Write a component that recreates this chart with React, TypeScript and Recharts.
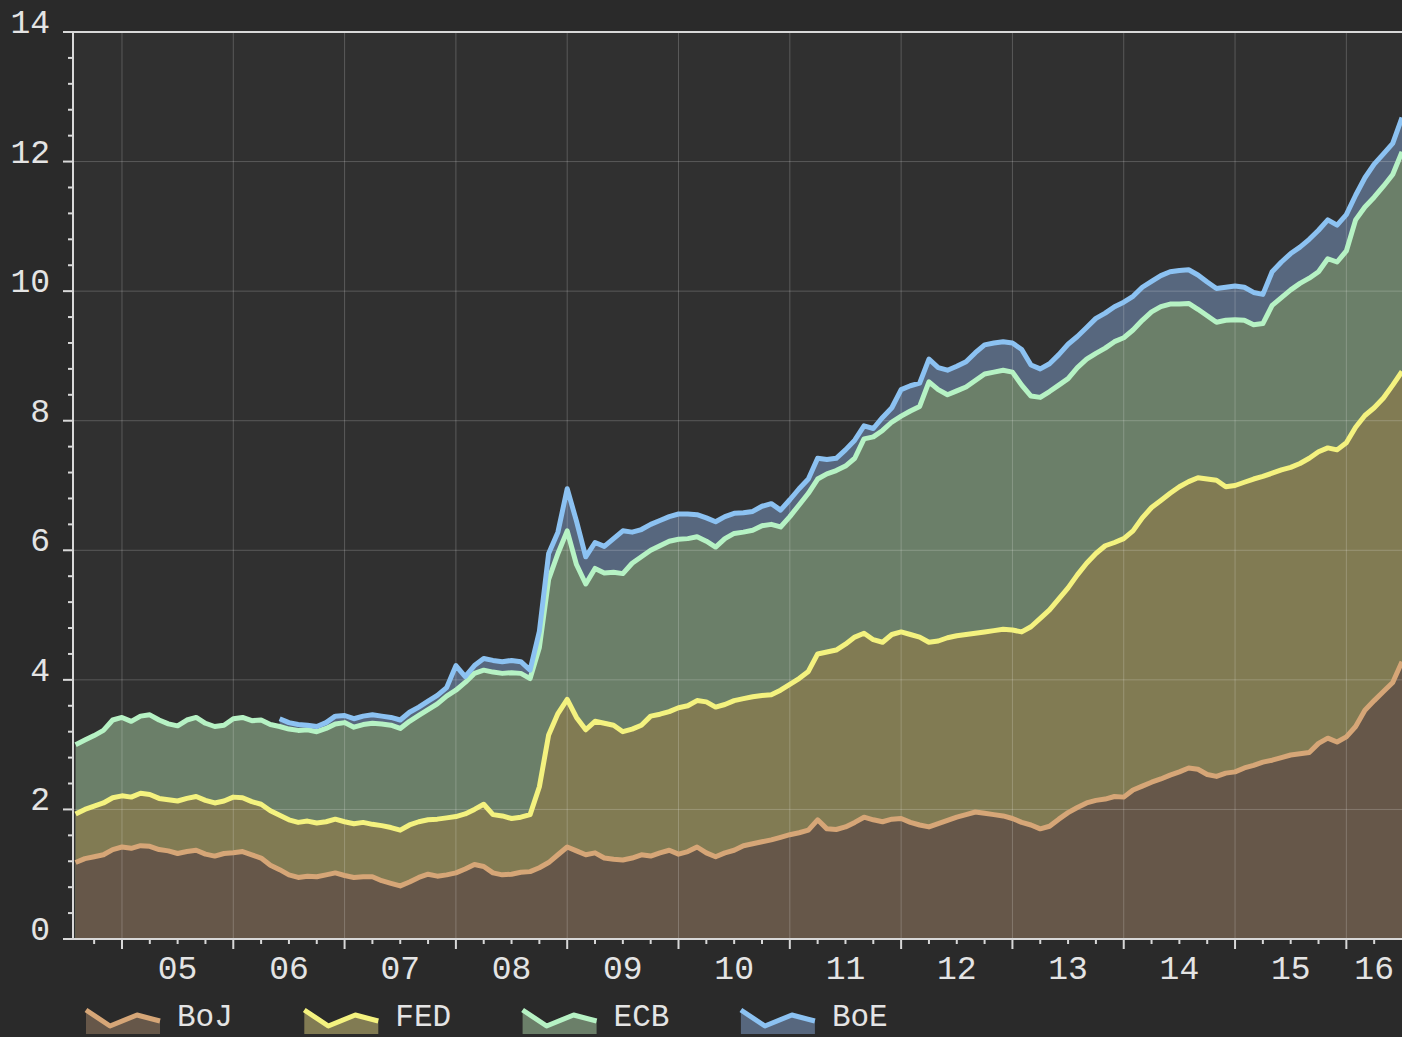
import React from 'react';
import { ComposedChart, Area, Line, XAxis, YAxis, ReferenceLine, CartesianGrid } from 'recharts';

// First sample: August 2004 (decimal year), monthly samples
const FIRST_YEAR = 2004;
const FIRST_MONTH_INDEX = 7; // months after Jan 2004
const X_MIN = 2004.56;
const X_MAX = 2016.5;

// Cumulative (stacked) levels
const bojTop = [
  1.18, 1.24, 1.27, 1.30, 1.38, 1.42, 1.40, 1.44, 1.43, 1.38,
  1.36, 1.32, 1.35, 1.37, 1.31, 1.28, 1.32, 1.33, 1.35, 1.30,
  1.25, 1.14, 1.07, 0.99, 0.95, 0.97, 0.96, 0.99, 1.02, 0.98,
  0.95, 0.96, 0.96, 0.90, 0.86, 0.82, 0.88, 0.95, 1.00, 0.97,
  0.99, 1.02, 1.08, 1.15, 1.12, 1.02, 0.99, 1.00, 1.03, 1.04,
  1.10, 1.18, 1.30, 1.42, 1.36, 1.30, 1.33, 1.25, 1.23, 1.22,
  1.25, 1.30, 1.28, 1.33, 1.37, 1.31, 1.35, 1.42, 1.33, 1.27,
  1.33, 1.37, 1.44, 1.47, 1.50, 1.53, 1.57, 1.61, 1.64, 1.68,
  1.84, 1.70, 1.69, 1.73, 1.80, 1.88, 1.84, 1.81, 1.85, 1.86,
  1.80, 1.76, 1.73, 1.78, 1.83, 1.88, 1.92, 1.96, 1.94, 1.92,
  1.90, 1.86, 1.80, 1.76, 1.70, 1.74, 1.85, 1.95, 2.03, 2.10,
  2.14, 2.16, 2.20, 2.19, 2.30, 2.36, 2.42, 2.47, 2.53, 2.58,
  2.64, 2.62, 2.54, 2.51, 2.56, 2.58, 2.64, 2.68, 2.73, 2.76,
  2.80, 2.84, 2.86, 2.88, 3.02, 3.10, 3.04, 3.12, 3.28, 3.53,
  3.68, 3.82, 3.96, 4.28,
];

const fedTop = [
  1.93, 2.00, 2.05, 2.10, 2.18, 2.21, 2.19, 2.25, 2.23, 2.17,
  2.15, 2.13, 2.17, 2.20, 2.14, 2.10, 2.13, 2.19, 2.18, 2.12,
  2.08, 1.98, 1.91, 1.84, 1.80, 1.82, 1.79, 1.81, 1.85, 1.81,
  1.78, 1.80, 1.77, 1.75, 1.72, 1.68, 1.76, 1.81, 1.84, 1.85,
  1.87, 1.89, 1.93, 2.00, 2.08, 1.92, 1.90, 1.86, 1.88, 1.92,
  2.35, 3.15, 3.48, 3.70, 3.42, 3.23, 3.36, 3.33, 3.30, 3.20,
  3.24, 3.30, 3.44, 3.47, 3.51, 3.57, 3.60, 3.68, 3.66, 3.58,
  3.62, 3.68, 3.71, 3.74, 3.76, 3.77, 3.84, 3.93, 4.02, 4.13,
  4.40, 4.43, 4.46, 4.55, 4.66, 4.72, 4.62, 4.58, 4.70, 4.74,
  4.70, 4.66, 4.58, 4.60, 4.65, 4.68, 4.70, 4.72, 4.74, 4.76,
  4.78, 4.77, 4.74, 4.82, 4.95, 5.08, 5.25, 5.42, 5.62, 5.80,
  5.95, 6.07, 6.12, 6.18, 6.30, 6.50, 6.66, 6.77, 6.88, 6.98,
  7.06, 7.12, 7.10, 7.08, 6.98, 7.00, 7.05, 7.10, 7.14, 7.19,
  7.24, 7.28, 7.34, 7.42, 7.52, 7.58, 7.55, 7.66, 7.90, 8.08,
  8.20, 8.35, 8.55, 8.76,
];

const ecbTop = [
  3.00, 3.07, 3.14, 3.22, 3.38, 3.42, 3.36, 3.44, 3.46, 3.38,
  3.32, 3.29, 3.38, 3.42, 3.33, 3.28, 3.30, 3.40, 3.42, 3.37,
  3.38, 3.31, 3.28, 3.24, 3.22, 3.23, 3.20, 3.25, 3.32, 3.34,
  3.27, 3.31, 3.33, 3.32, 3.30, 3.25, 3.36, 3.45, 3.54, 3.63,
  3.75, 3.84, 3.96, 4.10, 4.15, 4.12, 4.10, 4.11, 4.10, 4.02,
  4.50, 5.55, 5.95, 6.30, 5.78, 5.48, 5.72, 5.65, 5.66, 5.64,
  5.80, 5.90, 6.00, 6.07, 6.14, 6.17, 6.18, 6.21, 6.14, 6.05,
  6.18, 6.26, 6.28, 6.31, 6.38, 6.40, 6.36, 6.52, 6.70, 6.88,
  7.10, 7.18, 7.23, 7.30, 7.42, 7.72, 7.75, 7.85, 7.98, 8.07,
  8.15, 8.22, 8.60, 8.48, 8.40, 8.46, 8.52, 8.62, 8.72, 8.75,
  8.78, 8.75, 8.55, 8.38, 8.36, 8.45, 8.55, 8.65, 8.82, 8.95,
  9.04, 9.12, 9.22, 9.28, 9.40, 9.55, 9.68, 9.76, 9.80, 9.80,
  9.81, 9.72, 9.62, 9.52, 9.55, 9.56, 9.55, 9.48, 9.50, 9.78,
  9.90, 10.02, 10.12, 10.20, 10.30, 10.50, 10.45, 10.62, 11.10, 11.30,
  11.45, 11.62, 11.80, 12.15,
];

const boeTop: (number | null)[] = [
  null, null, null, null, null, null, null, null, null, null,
  null, null, null, null, null, null, null, null, null, null,
  null, null, 3.40, 3.34, 3.31, 3.30, 3.28, 3.34, 3.44, 3.45,
  3.40, 3.44, 3.46, 3.44, 3.42, 3.38, 3.50, 3.58, 3.67, 3.76,
  3.88, 4.22, 4.05, 4.22, 4.33, 4.30, 4.28, 4.30, 4.28, 4.15,
  4.75, 5.95, 6.28, 6.95, 6.45, 5.90, 6.12, 6.06, 6.18, 6.30,
  6.28, 6.32, 6.40, 6.46, 6.52, 6.56, 6.56, 6.55, 6.50, 6.44,
  6.52, 6.57, 6.58, 6.60, 6.68, 6.72, 6.62, 6.78, 6.95, 7.10,
  7.42, 7.40, 7.42, 7.55, 7.70, 7.92, 7.88, 8.05, 8.20, 8.48,
  8.54, 8.58, 8.95, 8.82, 8.78, 8.84, 8.91, 9.05, 9.17, 9.20,
  9.22, 9.20, 9.10, 8.86, 8.80, 8.88, 9.02, 9.18, 9.30, 9.44,
  9.58, 9.66, 9.76, 9.83, 9.92, 10.06, 10.15, 10.24, 10.30, 10.32,
  10.33, 10.25, 10.14, 10.04, 10.06, 10.08, 10.06, 9.98, 9.95, 10.30,
  10.45, 10.58, 10.68, 10.80, 10.94, 11.10, 11.02, 11.18, 11.48, 11.75,
  11.96, 12.12, 12.28, 12.68,
];

const seriesKeys = ['boj', 'fed', 'ecb', 'boe'];
const seriesNames = ['BoJ', 'FED', 'ECB', 'BoE'];
const fillColors = ['#665749', '#817b53', '#6b7f69', '#57677e'];
const lineColors = ['#d6a677', '#f4f27f', '#b6f2c4', '#8cc2f2'];

const years = [2005, 2006, 2007, 2008, 2009, 2010, 2011, 2012, 2013, 2014, 2015, 2016];
const yearLabels = ['05', '06', '07', '08', '09', '10', '11', '12', '13', '14', '15', '16'];
const yGridValues = [2, 4, 6, 8, 10, 12];
const yLabelValues = [0, 2, 4, 6, 8, 10, 12, 14];

const rows = bojTop.map((v, i) => ({
  t: FIRST_YEAR + (FIRST_MONTH_INDEX + i) / 12,
  boj: v,
  fed: fedTop[i],
  ecb: ecbTop[i],
  boe: boeTop[i],
}));

const yTicks: number[] = [];
for (let k = 0; k <= 35; k++) yTicks.push(Math.round(k * 4) / 10);
const xTicks: number[] = [];
for (let q = 0; q <= 46; q++) xTicks.push(2004.75 + q * 0.25);

const FONT = '"Liberation Mono", "DejaVu Sans Mono", monospace';
const TEXT = '#e4e4e4';
const AXIS = '#d8d8d8';
const GRID = 'rgba(255,255,255,0.2)';

const XTick = (props: any) => {
  const { x, y, payload } = props;
  const v: number = payload.value;
  const year = Math.floor(v + 1e-6);
  const frac = v - year;
  const isMajor = Math.abs(frac) < 1e-6;
  let label: string | null = null;
  const idx = years.indexOf(year);
  if (idx >= 0) {
    const fits = year + 0.5 < X_MAX - 1e-6;
    if (fits && Math.abs(frac - 0.5) < 1e-6) label = yearLabels[idx];
    if (!fits && Math.abs(frac - 0.25) < 1e-6) label = yearLabels[idx];
  }
  return (
    <g>
      <line x1={x} x2={x} y1={y} y2={y + (isMajor ? 10 : 5)} stroke={AXIS} strokeWidth={2} />
      {label && (
        <text x={x} y={y + 40} textAnchor="middle" fill={TEXT} fontFamily={FONT} fontSize={33}>
          {label}
        </text>
      )}
    </g>
  );
};

const YTick = (props: any) => {
  const { x, y, payload } = props;
  const v: number = payload.value;
  const isMajor = yLabelValues.includes(v);
  return (
    <g>
      <line x1={x - (isMajor ? 10 : 5)} x2={x} y1={y} y2={y} stroke={AXIS} strokeWidth={2} />
      {isMajor && (
        <text x={50} y={y + 1} textAnchor="end" fill={TEXT} fontFamily={FONT} fontSize={33}>
          {String(v)}
        </text>
      )}
    </g>
  );
};

const LegendOverlay = () => (
  <svg width={1402} height={57} style={{ position: 'absolute', left: 0, top: 980 }}>
    {seriesNames.map((name, i) => {
      const x0 = 85 + i * 218.3;
      const pts = [
        [x0 + 1, 30],
        [x0 + 25, 46],
        [x0 + 52, 35],
        [x0 + 75, 41],
      ];
      const line = pts.map((p) => p.join(',')).join(' ');
      const poly = line + ` ${x0 + 75},54 ${x0 + 1},54`;
      return (
        <g key={name}>
          <polygon points={poly} fill={fillColors[i]} />
          <polyline points={line} fill="none" stroke={lineColors[i]} strokeWidth={5} strokeLinejoin="round" />
          <text x={x0 + 92} y={46} fill={TEXT} fontFamily={FONT} fontSize={31}>
            {name}
          </text>
        </g>
      );
    })}
  </svg>
);

export default function App() {
  const order = [3, 2, 1, 0];
  return (
    <div style={{ position: 'fixed', left: 0, top: 0, width: 1402, height: 1037, background: '#2a2a2a', overflow: 'hidden' }}>
      <ComposedChart width={1402} height={1037} data={rows} margin={{ top: 32, right: 0, bottom: 0, left: 0 }}>
        <CartesianGrid fill="#303030" stroke="none" horizontal={false} vertical={false} />
        <XAxis
          dataKey="t"
          type="number"
          domain={[X_MIN, X_MAX]}
          ticks={xTicks}
          interval={0}
          height={98}
          tickSize={0}
          tickMargin={0}
          tickLine={false}
          axisLine={{ stroke: AXIS, strokeWidth: 2 }}
          tick={(p: any) => <XTick {...p} />}
        />
        <YAxis
          type="number"
          domain={[0, 14]}
          ticks={yTicks}
          interval={0}
          width={73}
          tickSize={0}
          tickMargin={0}
          tickLine={false}
          axisLine={{ stroke: AXIS, strokeWidth: 2 }}
          tick={(p: any) => <YTick {...p} />}
        />
        {order.map((i) => (
          <Area
            key={'a' + seriesKeys[i]}
            dataKey={seriesKeys[i]}
            name={seriesNames[i]}
            type="linear"
            baseValue={0}
            fill={fillColors[i]}
            fillOpacity={1}
            stroke="none"
            isAnimationActive={false}
            activeDot={false}
            dot={false}
          />
        ))}
        {yGridValues.map((v) => (
          <ReferenceLine key={'h' + v} y={v} stroke={GRID} strokeWidth={1} />
        ))}
        {years.map((v) => (
          <ReferenceLine key={'v' + v} x={v} stroke={GRID} strokeWidth={1} />
        ))}
        <ReferenceLine y={14} stroke={AXIS} strokeWidth={2} />
        {[0, 1, 2, 3].map((i) => (
          <Line
            key={'l' + seriesKeys[i]}
            dataKey={seriesKeys[i]}
            type="linear"
            stroke={lineColors[i]}
            strokeWidth={5}
            strokeLinejoin="round"
            dot={false}
            activeDot={false}
            isAnimationActive={false}
            legendType="none"
          />
        ))}
      </ComposedChart>
      <LegendOverlay />
    </div>
  );
}
